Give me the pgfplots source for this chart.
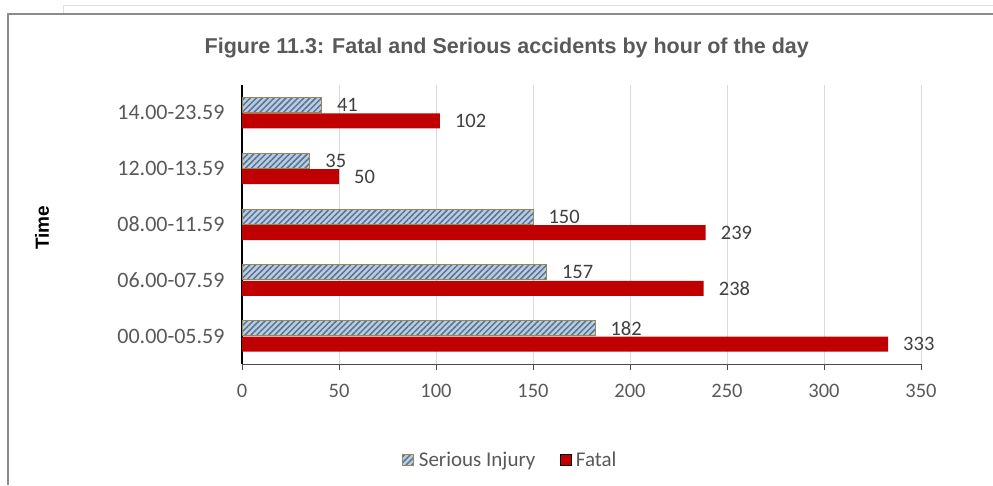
\documentclass[border=0pt]{standalone}
\usepackage{pgfplots}
\pgfplotsset{compat=1.18}
\usetikzlibrary{patterns.meta}
\usepackage{fontspec}
\setmainfont{Carlito}
\newfontfamily\arialfont{Liberation Sans}
\definecolor{fatalred}{HTML}{C00000}
\definecolor{serfill}{HTML}{B8CCE4}
\definecolor{serline}{HTML}{5B7290}
\definecolor{seredge}{HTML}{948A54}
\definecolor{ticktext}{HTML}{595959}
\definecolor{labtext}{HTML}{404040}
\begin{document}
\begin{tikzpicture}
\path[use as bounding box] (0pt,0pt) rectangle (993pt,-485pt);
% outer frames
\draw[gray!25, line width=1pt] (63pt,-14pt) -- (63pt,-5.5pt) -- (993pt,-5.5pt);
\draw[gray!90, line width=1.5pt] (993pt,-14pt) -- (8pt,-14pt) -- (8pt,-485pt);
\begin{axis}[
    at={(242pt,-364pt)}, anchor=south west,
    scale only axis, width=679pt, height=279pt,
    xbar, bar width=15pt,
    xmin=0, xmax=350, ymin=-0.5, ymax=4.5,
    xtick={0,50,...,350},
    ytick={0,1,2,3,4},
    yticklabels={00.00-05.59,06.00-07.59,08.00-11.59,12.00-13.59,14.00-23.59},
    axis lines*=left,
    x axis line style={black!70, line width=1pt},
    y axis line style={black, line width=2.5pt},
    xtick style={black!70, line width=1pt},
    tick align=outside, major tick length=6pt,
    ytick style={draw=none},
    xmajorgrids, grid style={black!15, line width=1pt},
    /pgf/number format/assume math mode=true,
    ticklabel style={text=ticktext},
    xticklabel style={font=\fontsize{20.5}{24}\selectfont, yshift=-11pt},
    yticklabel style={font=\fontsize{22}{26}\selectfont, xshift=-8pt},
    title={Figure 11.3: Fatal and Serious accidents by hour of the day},
    title style={at={(0.39,1.112)}, anchor=center, yshift=0pt, font=\arialfont\bfseries\fontsize{21.5}{25}\selectfont, text=ticktext},
    ylabel={Time},
    ylabel style={at={(axis description cs:-0.2946,0.489)}, anchor=center, font=\arialfont\bfseries\fontsize{19}{23}\selectfont},
    nodes near coords,
    every node near coord/.append style={font=\fontsize{20.5}{24}\selectfont, text=labtext, anchor=west, inner sep=0pt, xshift=15pt},
    legend style={at={(0.395,-0.344)}, anchor=center, draw=none, legend columns=2,
        font=\fontsize{21}{25}\selectfont, text=ticktext,
        /tikz/every even column/.append style={column sep=22pt}},
    legend image code/.code={\draw[#1] (0pt,-5.5pt) rectangle (11pt,5.5pt);},
]
\addplot[draw=seredge, line width=1pt, fill=serfill,
    postaction={pattern={Lines[angle=45,distance=4.2pt,line width=1.5pt]}, pattern color=serline},
    bar shift=8pt]
    coordinates {(182,0)(157,1)(150,2)(35,3)(41,4)};
\addlegendentry{\hspace{3pt}Serious Injury}
\addplot[draw=none, fill=fatalred, bar shift=-8pt]
    coordinates {(333,0)(238,1)(239,2)(50,3)(102,4)};
\addlegendentry{\hspace{3pt}Fatal}
\end{axis}
\end{tikzpicture}
\end{document}
